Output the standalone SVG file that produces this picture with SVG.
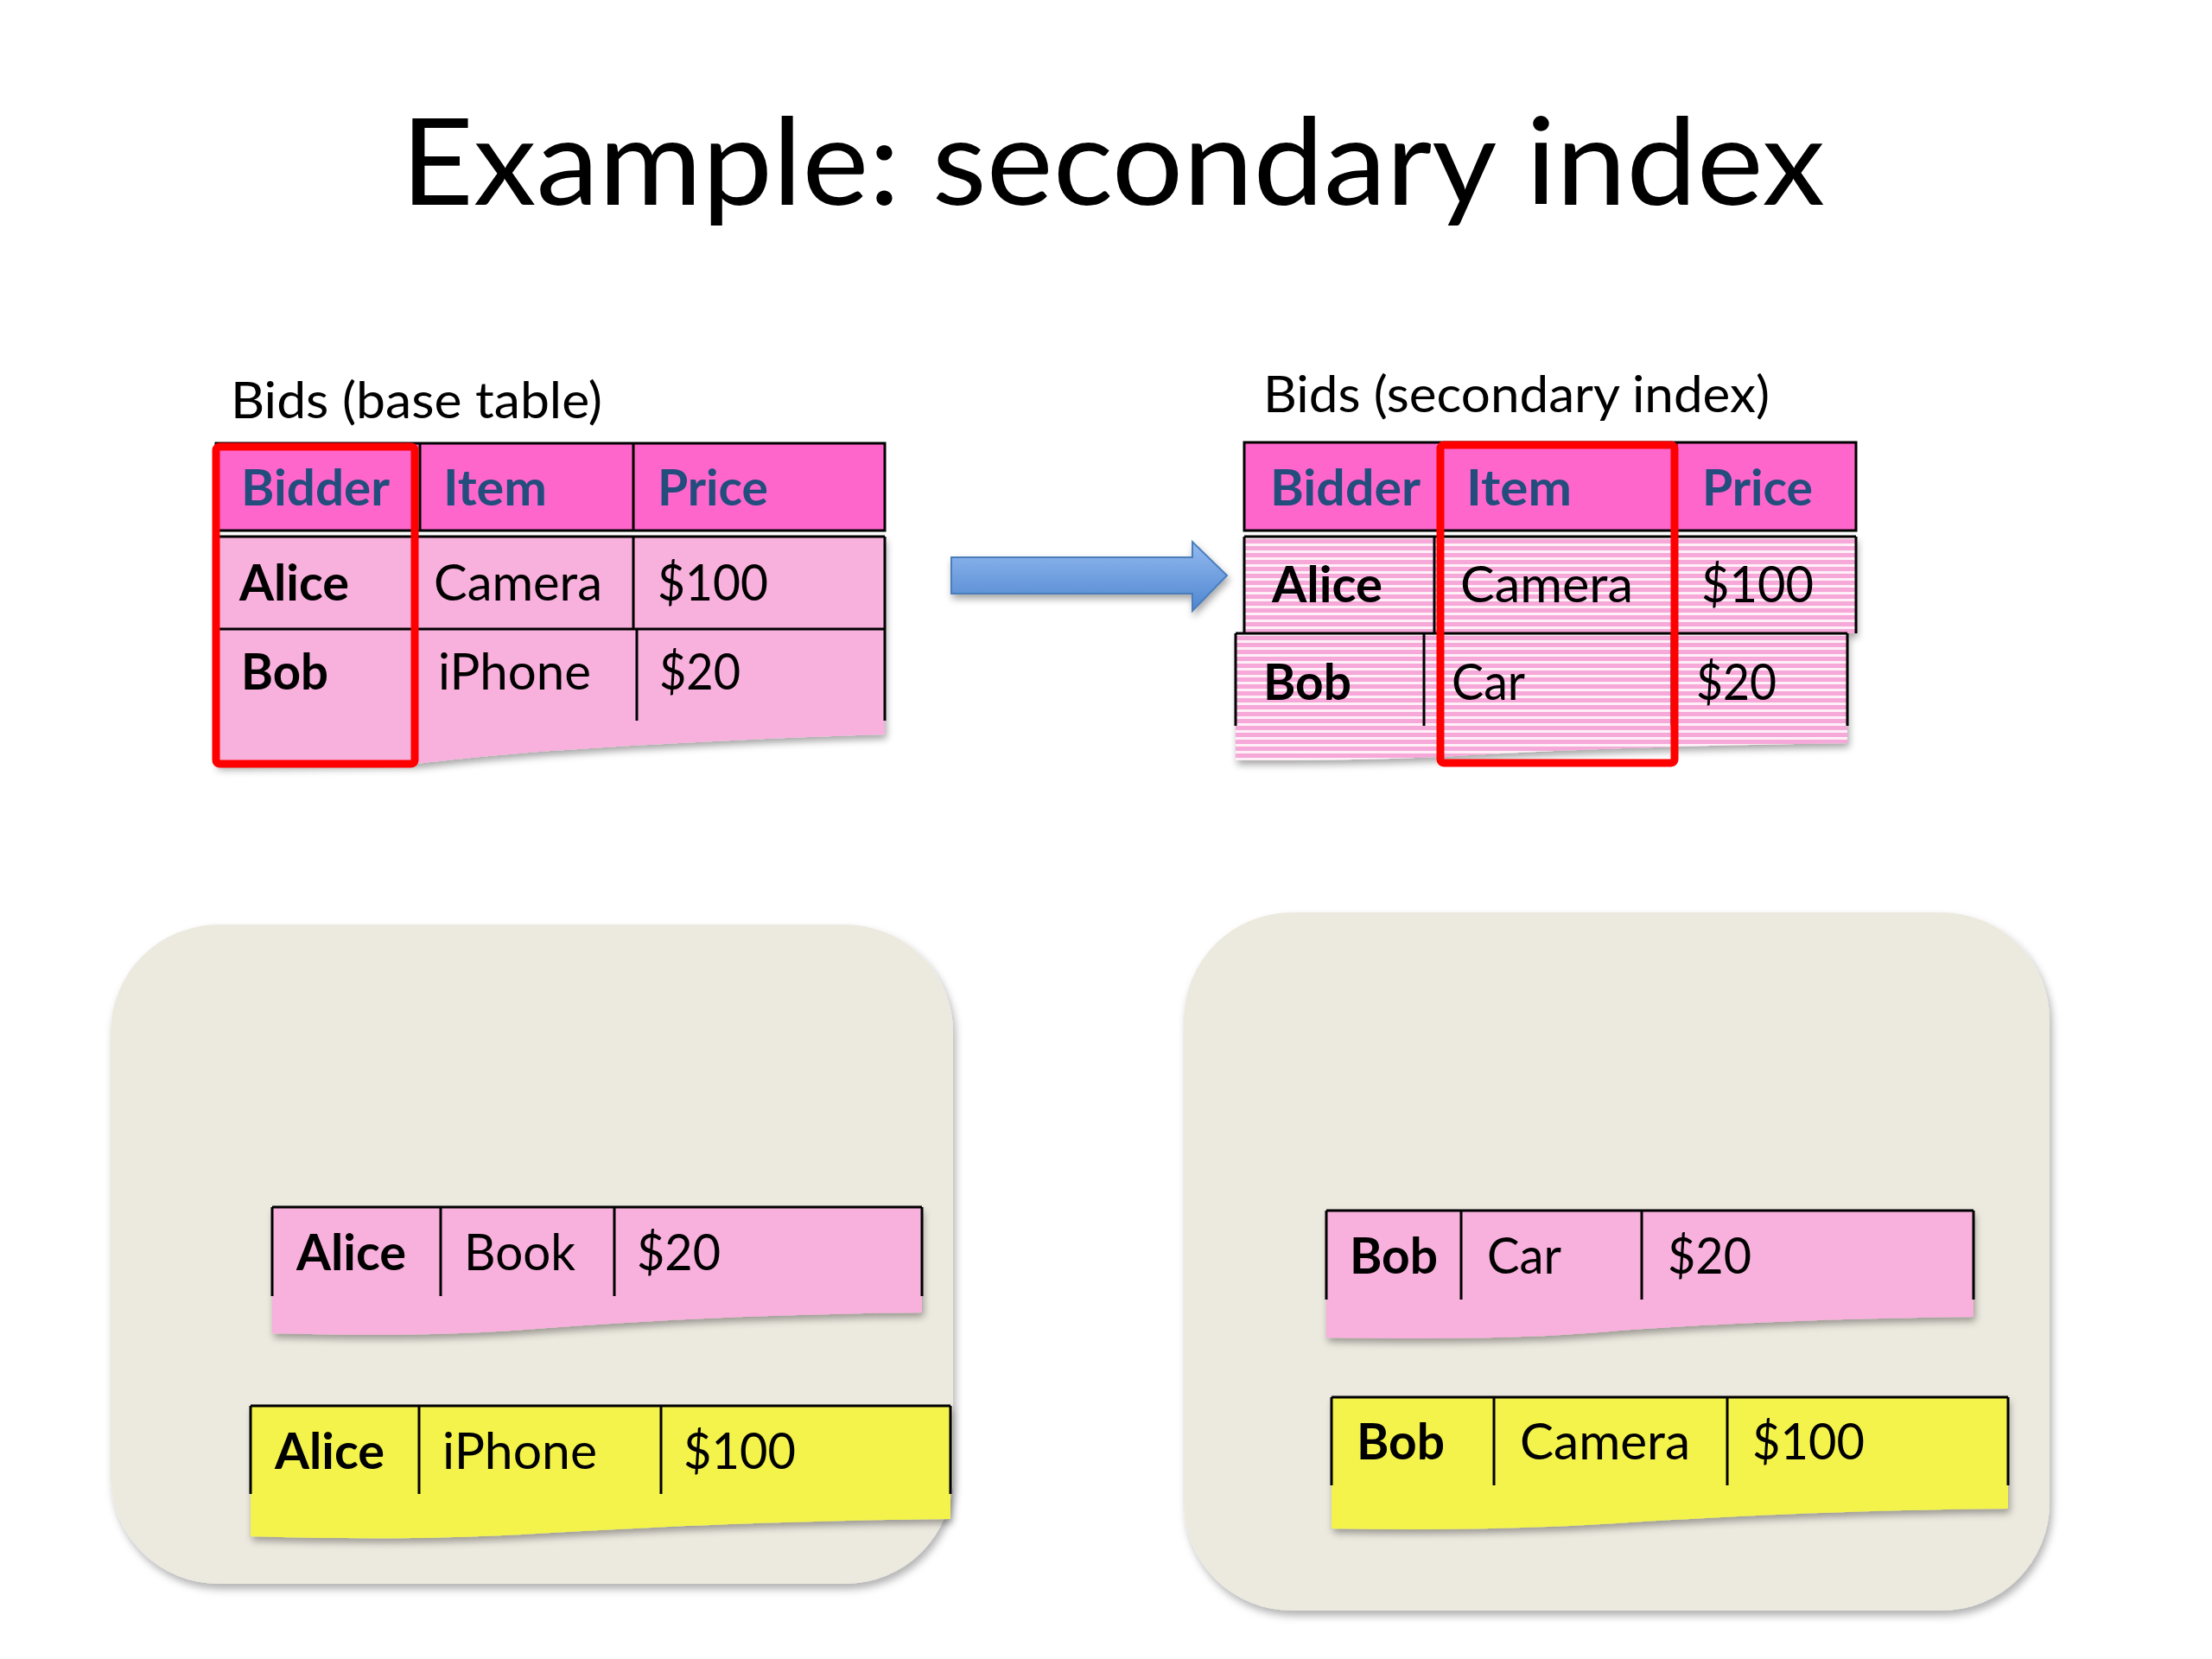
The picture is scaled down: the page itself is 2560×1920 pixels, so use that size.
<svg xmlns="http://www.w3.org/2000/svg" width="2560" height="1920" viewBox="0 0 2560 1920">
<style>
text { font-family: Lato, "Open Sans", "Liberation Sans", sans-serif; }
.title { font-size: 140px; fill: #000; }
.label { font-size: 58px; fill: #000; }
.hd { font-size: 58px; font-weight: bold; fill: #234d7d; }
.bd { font-size: 58px; font-weight: bold; fill: #000; }
.rg { font-size: 58px; fill: #000; }
.ln { stroke: #000; stroke-width: 3; fill: none; }
.hdr { fill: #ff66cc; stroke: #000; stroke-width: 3; }
.pink { fill: #f8b0dc; }
.yellow { fill: #f3f34b; }
.striped { fill: url(#stripes); }
.hl { fill: none; stroke: #ff0000; stroke-width: 9; }
.card { fill: #ece9df; }
</style>
<defs>
<pattern id="stripes" patternUnits="userSpaceOnUse" width="8" height="8">
<rect width="8" height="8" fill="#f6a8d9"/>
<rect y="5" width="8" height="3" fill="#fff0f8"/>
</pattern>
<linearGradient id="arrowGrad" x1="0" y1="0" x2="0" y2="1">
<stop offset="0" stop-color="#93baf0"/>
<stop offset="1" stop-color="#4f86d0"/>
</linearGradient>
<filter id="sh" x="-10%" y="-10%" width="120%" height="130%">
<feDropShadow dx="2" dy="5" stdDeviation="4" flood-color="#000" flood-opacity="0.35"/>
</filter>
<filter id="shCard" x="-10%" y="-10%" width="120%" height="120%">
<feDropShadow dx="3" dy="6" stdDeviation="5" flood-color="#000" flood-opacity="0.3"/>
</filter>
</defs>

<rect width="2560" height="1920" fill="#ffffff"/>

<g id="title">
<text class="title" x="464" y="237" textLength="1648" lengthAdjust="spacingAndGlyphs">Example: secondary index</text>
</g>

<g id="label-base">
<text class="label" x="267" y="484" textLength="430" lengthAdjust="spacingAndGlyphs">Bids (base table)</text>
</g>
<g id="label-index">
<text class="label" x="1462" y="477" textLength="586" lengthAdjust="spacingAndGlyphs">Bids (secondary index)</text>
</g>

<g id="base-table">
<path class="pink" filter="url(#sh)" d="M250 621 H1024 V850 C880 854 700 864 600 872 C540 877 500 882 480 884 L250 886 Z"/>
<rect class="hdr" x="250" y="513" width="774" height="101"/>
<path class="ln" d="M486 513 V614 M733 513 V614"/>
<path class="ln" d="M250 621 H1024 M250 728 H1024 M250 621 V834 M478 621 V834 M733 621 V728 M737 728 V834 M1024 621 V834"/>
<text class="hd" x="279" y="585" textLength="172" lengthAdjust="spacingAndGlyphs">Bidder</text>
<text class="hd" x="513" y="585" textLength="120" lengthAdjust="spacingAndGlyphs">Item</text>
<text class="hd" x="761" y="585" textLength="128" lengthAdjust="spacingAndGlyphs">Price</text>
<text class="bd" x="277" y="695" textLength="127" lengthAdjust="spacingAndGlyphs">Alice</text>
<text class="rg" x="502" y="695" textLength="195" lengthAdjust="spacingAndGlyphs">Camera</text>
<text class="rg" x="761" y="695" textLength="128" lengthAdjust="spacingAndGlyphs">$100</text>
<text class="bd" x="279" y="798" textLength="101" lengthAdjust="spacingAndGlyphs">Bob</text>
<text class="rg" x="507" y="798" textLength="177" lengthAdjust="spacingAndGlyphs">iPhone</text>
<text class="rg" x="763" y="798" textLength="94" lengthAdjust="spacingAndGlyphs">$20</text>
<rect class="hl" x="250" y="517" width="230" height="367" rx="4"/>
</g>

<g id="index-table">
<path class="striped" filter="url(#sh)" d="M1440 621 H2148 V733 H2138 V860 C1980 862 1800 868 1700 874 C1600 880 1500 880 1430 880 V733 H1440 Z"/>
<rect class="hdr" x="1440" y="512" width="708" height="102"/>
<path class="ln" d="M1668 512 V614 M1940 512 V614"/>
<path class="ln" d="M1440 621 H2148 M1440 621 V733 M2148 621 V733 M1660 621 V733 M1940 621 V733"/>
<path class="ln" d="M1430 733 H2138 M1430 733 V840 M2138 733 V840 M1648 733 V840 M1935 733 V840"/>
<text class="hd" x="1470" y="585" textLength="174" lengthAdjust="spacingAndGlyphs">Bidder</text>
<text class="hd" x="1697" y="585" textLength="122" lengthAdjust="spacingAndGlyphs">Item</text>
<text class="hd" x="1970" y="585" textLength="128" lengthAdjust="spacingAndGlyphs">Price</text>
<text class="bd" x="1472" y="697" textLength="128" lengthAdjust="spacingAndGlyphs">Alice</text>
<text class="rg" x="1690" y="697" textLength="200" lengthAdjust="spacingAndGlyphs">Camera</text>
<text class="rg" x="1969" y="697" textLength="130" lengthAdjust="spacingAndGlyphs">$100</text>
<text class="bd" x="1462" y="810" textLength="102" lengthAdjust="spacingAndGlyphs">Bob</text>
<text class="rg" x="1680" y="810" textLength="85" lengthAdjust="spacingAndGlyphs">Car</text>
<text class="rg" x="1963" y="810" textLength="93" lengthAdjust="spacingAndGlyphs">$20</text>
<rect class="hl" x="1667" y="515" width="271" height="368" rx="4"/>
</g>

<g id="connectors">
<path filter="url(#sh)" fill="url(#arrowGrad)" stroke="#4a7ebb" stroke-width="2" d="M1101 645 H1380 V627 L1420 666 L1380 707 V687 H1101 Z"/>
</g>

<g id="partition-1">
<rect class="card" filter="url(#shCard)" x="128" y="1070" width="975" height="763" rx="125"/>
</g>
<g id="row-alice-book">
<path class="pink" filter="url(#sh)" d="M315 1397 H1067 V1519 C880 1521 720 1530 620 1538 C520 1546 420 1546 315 1543 Z"/>
<path class="ln" d="M315 1397 H1067 M315 1397 V1500 M1067 1397 V1500 M510 1397 V1500 M711 1397 V1500"/>
<text class="bd" x="343" y="1470" textLength="127" lengthAdjust="spacingAndGlyphs">Alice</text>
<text class="rg" x="537" y="1470" textLength="129" lengthAdjust="spacingAndGlyphs">Book</text>
<text class="rg" x="737" y="1470" textLength="97" lengthAdjust="spacingAndGlyphs">$20</text>
</g>
<g id="row-alice-iphone">
<path class="yellow" filter="url(#sh)" d="M290 1627 H1100 V1758 C900 1760 740 1768 620 1775 C500 1782 400 1781 290 1778 Z"/>
<path class="ln" d="M290 1627 H1100 M290 1627 V1729 M1100 1627 V1729 M485 1627 V1729 M765 1627 V1729"/>
<text class="bd" x="318" y="1700" textLength="127" lengthAdjust="spacingAndGlyphs">Alice</text>
<text class="rg" x="512" y="1700" textLength="179" lengthAdjust="spacingAndGlyphs">iPhone</text>
<text class="rg" x="791" y="1700" textLength="130" lengthAdjust="spacingAndGlyphs">$100</text>
</g>

<g id="partition-2">
<rect class="card" filter="url(#shCard)" x="1370" y="1056" width="1002" height="808" rx="125"/>
</g>
<g id="row-bob-car">
<path class="pink" filter="url(#sh)" d="M1535 1401 H2284 V1524 C2100 1526 1950 1534 1850 1542 C1750 1550 1650 1550 1535 1548 Z"/>
<path class="ln" d="M1535 1401 H2284 M1535 1401 V1504 M2284 1401 V1504 M1691 1401 V1504 M1900 1401 V1504"/>
<text class="bd" x="1562" y="1474" textLength="102" lengthAdjust="spacingAndGlyphs">Bob</text>
<text class="rg" x="1721" y="1474" textLength="86" lengthAdjust="spacingAndGlyphs">Car</text>
<text class="rg" x="1930" y="1474" textLength="97" lengthAdjust="spacingAndGlyphs">$20</text>
</g>
<g id="row-bob-camera">
<path class="yellow" filter="url(#sh)" d="M1541 1617 H2324 V1746 C2130 1748 1980 1756 1870 1763 C1760 1770 1650 1771 1541 1769 Z"/>
<path class="ln" d="M1541 1617 H2324 M1541 1617 V1719 M2324 1617 V1719 M1729 1617 V1719 M1999 1617 V1719"/>
<text class="bd" x="1570" y="1689" textLength="102" lengthAdjust="spacingAndGlyphs">Bob</text>
<text class="rg" x="1759" y="1689" textLength="197" lengthAdjust="spacingAndGlyphs">Camera</text>
<text class="rg" x="2028" y="1689" textLength="130" lengthAdjust="spacingAndGlyphs">$100</text>
</g>
</svg>
